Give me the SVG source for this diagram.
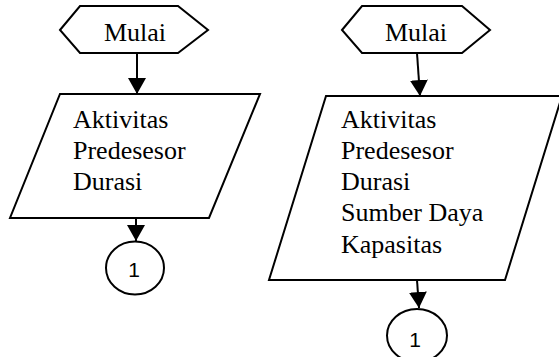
<svg xmlns="http://www.w3.org/2000/svg" width="559" height="357" viewBox="0 0 559 357">
  <style>
    .shape { fill: #ffffff; stroke: #000000; stroke-width: 2; stroke-linejoin: miter; }
    .label { font-family: "Liberation Serif", "Times New Roman", serif; font-size: 26px; fill: #000000; }
    .num { font-family: "Liberation Sans", Arial, sans-serif; font-size: 21px; fill: #000000; text-anchor: middle; }
    .center { text-anchor: middle; }
    .link { fill: none; stroke: #000000; stroke-width: 2; }
  </style>
  <defs>
    <marker id="arrow" markerUnits="userSpaceOnUse" markerWidth="18" markerHeight="18" viewBox="0 0 18 18" refX="16" refY="9" orient="auto">
      <path d="M0,0 L16,9 L0,18 Z" fill="#000000"/>
    </marker>
  </defs>

  <rect width="559" height="357" fill="#ffffff"/>

  <!-- connectors -->
  <g id="connectors">
    <line class="link" x1="137" y1="53" x2="137" y2="94" marker-end="url(#arrow)"/>
    <line class="link" x1="136" y1="218" x2="136" y2="241" marker-end="url(#arrow)"/>
    <line class="link" x1="417" y1="53" x2="420" y2="96" marker-end="url(#arrow)"/>
    <line class="link" x1="417" y1="280" x2="419" y2="308" marker-end="url(#arrow)"/>
  </g>

  <!-- left flow -->
  <g id="start-left">
    <polygon class="shape" points="60,30 80,6 178,6 208,30 178,53 80,53"/>
    <text class="label center" x="135" y="41">Mulai</text>
  </g>
  <g id="input-left">
    <polygon class="shape" points="60,94 260,94 209,218 10,218"/>
    <text class="label" x="73" y="128">Aktivitas</text>
    <text class="label" x="73" y="159">Predesesor</text>
    <text class="label" x="73" y="190">Durasi</text>
  </g>
  <g id="connector-left">
    <ellipse class="shape" cx="135" cy="268" rx="29" ry="26.5"/>
    <text class="num" x="134" y="277">1</text>
  </g>

  <!-- right flow -->
  <g id="start-right">
    <polygon class="shape" points="342,30 362,6 462,6 490,30 462,53 362,53"/>
    <text class="label center" x="416" y="41">Mulai</text>
  </g>
  <g id="input-right">
    <polygon class="shape" points="326,96 562,96 505,280 269,280"/>
    <text class="label" x="341" y="128">Aktivitas</text>
    <text class="label" x="341" y="159">Predesesor</text>
    <text class="label" x="341" y="190">Durasi</text>
    <text class="label" x="341" y="221">Sumber Daya</text>
    <text class="label" x="341" y="253">Kapasitas</text>
  </g>
  <g id="connector-right">
    <ellipse class="shape" cx="417" cy="335.5" rx="30" ry="26.5"/>
    <text class="num" x="415" y="347">1</text>
  </g>
</svg>
